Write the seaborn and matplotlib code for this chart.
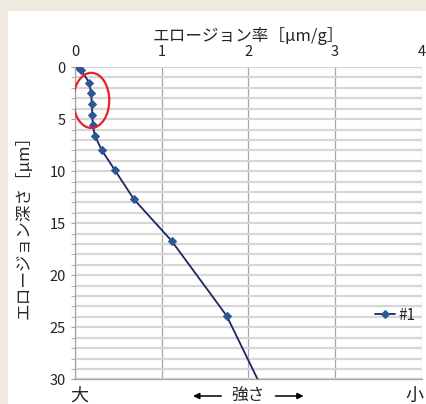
import seaborn as sns
import matplotlib.pyplot as plt
import pandas as pd
from matplotlib.patches import Ellipse, Rectangle
from matplotlib.ticker import MultipleLocator

# erosion rate [um/g] vs erosion depth [um], series #1
rate = [0.03, 0.07, 0.165, 0.185, 0.195, 0.20, 0.205, 0.23, 0.31, 0.46, 0.68, 1.115, 1.75, 2.40]
depth = [0.0, 0.3, 1.5, 2.5, 3.55, 4.6, 5.6, 6.6, 8.0, 9.9, 12.7, 16.7, 23.9, 35.0]
series = '#1'
x_ticks = [0, 1, 2, 3, 4]
y_ticks = [0, 5, 10, 15, 20, 25, 30]

df = pd.DataFrame({'rate': rate, 'depth': depth, 'series': series})

sns.set_style('white')
plt.rcParams['font.family'] = ['Noto Sans CJK JP', 'DejaVu Sans']

fig = plt.figure(figsize=(4.26, 4.04), dpi=100)
fig.patch.set_facecolor('#eeeae0')
fig.patches.append(Rectangle((8 / 426, 0), 1, 1 - 11 / 404, transform=fig.transFigure,
                             facecolor='white', edgecolor='none', zorder=-10))
ax = fig.add_axes([0.176, 0.061, 0.814, 0.773])
ax.set_facecolor('white')

sns.lineplot(data=df, x='rate', y='depth', hue='series', sort=False, estimator=None,
             palette=['#1c2660'], marker='D', markersize=4, markerfacecolor='#2c5694',
             markeredgecolor='#2c5694', linewidth=1.3, ax=ax)

ax.set_xlim(0, 4)
ax.set_ylim(30, 0)
ax.xaxis.tick_top()
ax.xaxis.set_label_position('top')
ax.set_xticks(x_ticks)
ax.set_yticks(y_ticks)
ax.yaxis.set_minor_locator(MultipleLocator(1))
ax.tick_params(axis='x', length=0, labelsize=10.5, pad=6, colors='#222222')
ax.tick_params(axis='y', which='both', direction='out', length=3,
               labelsize=10.5, labelcolor='#222222', left=True)
ax.tick_params(axis='y', which='both', color='#a0a0a0')
ax.grid(axis='y', which='both', color='#d6d6d6', linewidth=1.6)
ax.grid(axis='x', which='major', color='#a6a6a6', linewidth=0.9)
ax.set_axisbelow(True)
for side in ['top', 'right']:
    ax.spines[side].set_visible(False)
for side in ['left', 'bottom']:
    ax.spines[side].set_color('#a6a6a6')
    ax.spines[side].set_linewidth(0.9)

ax.set_xlabel('エロージョン率［μm/g］', fontsize=12, labelpad=3)
ax.set_ylabel('エロージョン深さ［μm］', fontsize=12, labelpad=12)

ax.add_patch(Ellipse((0.188, 3.2), 0.415, 5.3, fill=False, edgecolor='#e8202a', linewidth=1.6, zorder=5))

ax.text(0.05, 31.6, '大', fontsize=13, ha='center', va='center', clip_on=False)
ax.text(3.92, 31.6, '小', fontsize=13, ha='center', va='center', clip_on=False)
ax.text(2.0, 31.6, '強さ', fontsize=12, ha='center', va='center', clip_on=False)
arrow = dict(arrowstyle='-|>', color='black', lw=1.1, mutation_scale=9)
ax.annotate('', xy=(1.33, 31.6), xytext=(1.72, 31.6), arrowprops=arrow, annotation_clip=False)
ax.annotate('', xy=(2.67, 31.6), xytext=(2.28, 31.6), arrowprops=arrow, annotation_clip=False)

leg = ax.legend(loc='center right', bbox_to_anchor=(1.02, 0.205), frameon=False,
                fontsize=11, handlelength=1.3, handletextpad=0.2)

plt.savefig('out.png', dpi=100)
